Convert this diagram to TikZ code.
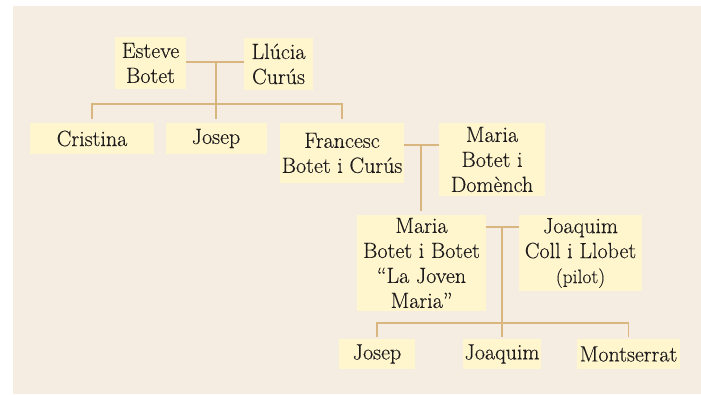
\documentclass[tikz,border=0pt]{standalone}
\usepackage{fontspec}
\newfontfamily\pfont{Latin Modern Roman}[FakeBold=0.3]
\definecolor{bgc}{RGB}{245,236,226}
\definecolor{boxc}{RGB}{255,246,206}
\definecolor{linec}{RGB}{217,182,127}
\definecolor{txtc}{RGB}{30,27,28}
\begin{document}
\begin{tikzpicture}[x=1pt,y=-1pt,
  person/.style={fill=boxc,inner sep=0pt,align=center,text=txtc,
    font=\pfont\fontsize{22}{25}\selectfont},
  link/.style={draw=linec,line width=1.4pt}]
\useasboundingbox (0,0) rectangle (701,394);
\fill[bgc] (13,6) rectangle (701,394);
% generation 1
\node[person,minimum width=71pt,minimum height=52pt] (esteve) at (150.5,63) {Esteve\\Botet};
\node[person,minimum width=69pt,minimum height=52pt] (llucia) at (278.5,64) {Llúcia\\Curús};
% generation 2
\node[person,minimum width=124pt,minimum height=31pt] (cristina) at (92,138.5) {Cristina};
\node[person,minimum width=101pt,minimum height=31pt] (josepA) at (216,138.5) {Josep};
\node[person,minimum width=124pt,minimum height=60pt] (francesc) at (342,153) {Francesc\\Botet i Curús};
\node[person,minimum width=106pt,minimum height=73pt] (mariaD) at (492,159.5) {Maria\\Botet i\\Domènch};
% generation 3
\node[person,minimum width=129pt,minimum height=96pt] (mariaB) at (421.5,263) {Maria\\Botet i Botet\\“La Joven\\Maria”};
\node[person,minimum width=123pt,minimum height=76pt] (joaquimC) at (580.5,253) {Joaquim\\Coll i Llobet\\{\fontsize{19.5}{25}\selectfont (pilot)}};
% generation 4
\node[person,minimum width=76pt,minimum height=30pt] (josepB) at (377,354) {Josep};
\node[person,minimum width=78pt,minimum height=30pt] (joaquimB) at (502,354) {Joaquim};
\node[person,minimum width=103pt,minimum height=30pt] (montserrat) at (628.5,354) {Montserrat};
% couple 1
\coordinate (m1) at (216,62);
\coordinate (b1) at (216,104);
\draw[link] (esteve.east |- m1) -- (llucia.west |- m1);
\draw[link,shorten >=4pt] (m1) -- (m1 |- josepA.north);
\draw[link,shorten <=4pt,shorten >=4pt] (cristina.north) |- (b1) -| (francesc.north);
% couple 2
\coordinate (m2) at (421,145);
\draw[link] (francesc.east |- m2) -- (mariaD.west |- m2);
\draw[link,shorten >=4pt] (m2) -- (m2 |- mariaB.north);
% couple 3
\coordinate (m3) at (502,227);
\coordinate (b3) at (502,323);
\draw[link] (mariaB.east |- m3) -- (joaquimC.west |- m3);
\draw[link,shorten >=2pt] (m3) -- (joaquimB.north);
\draw[link,shorten <=2pt,shorten >=2pt] (josepB.north) |- (b3) -| (montserrat.north);
\end{tikzpicture}
\end{document}
